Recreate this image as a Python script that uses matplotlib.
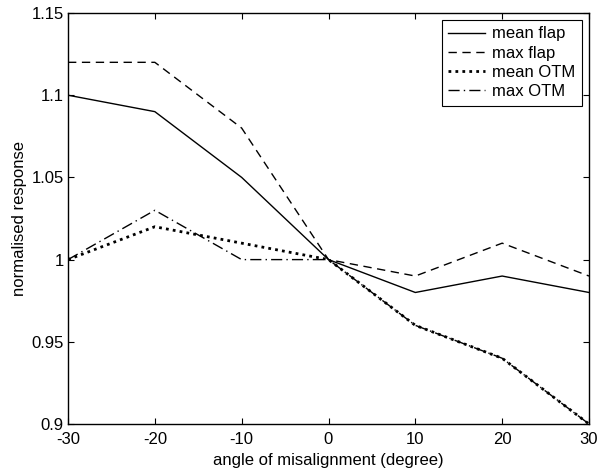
import numpy as np
import matplotlib
matplotlib.use('Agg')
import matplotlib.pyplot as plt

plt.rcParams['font.family'] = ['Liberation Sans', 'DejaVu Sans']

# data
angle = [-30, -20, -10, 0, 10, 20, 30]
mean_flap = [1.10, 1.09, 1.05, 1.00, 0.98, 0.99, 0.98]
max_flap = [1.12, 1.12, 1.08, 1.00, 0.99, 1.01, 0.99]
mean_otm = [1.00, 1.02, 1.01, 1.00, 0.96, 0.94, 0.90]
max_otm = [1.00, 1.03, 1.00, 1.00, 0.96, 0.94, 0.90]

xticks = [-30, -20, -10, 0, 10, 20, 30]
yticks = [0.9, 0.95, 1.0, 1.05, 1.1, 1.15]
ytick_labels = ['0.9', '0.95', '1', '1.05', '1.1', '1.15']

fig = plt.figure(figsize=(6, 4.76), dpi=100)
ax = fig.add_axes([68 / 600, 1 - 424 / 476, (589 - 68) / 600, (424 - 13) / 476])

ax.plot(angle, mean_flap, color='black', lw=1.0, ls='-', label='mean flap')
ax.plot(angle, max_flap, color='black', lw=1.0, ls=(0, (6, 4)), label='max flap')
ax.plot(angle, mean_otm, color='black', lw=2.0, ls=(0, (1, 1.5)), label='mean OTM')
ax.plot(angle, max_otm, color='black', lw=1.0, ls=(0, (8, 3, 1, 3)), label='max OTM')

ax.set_xlim(-30, 30)
ax.set_ylim(0.9, 1.15)
ax.set_xticks(xticks)
ax.set_xticklabels([str(t) for t in xticks])
ax.set_yticks(yticks)
ax.set_yticklabels(ytick_labels)
ax.tick_params(direction='in', top=True, right=True, labelsize=12, length=4, width=0.8)
ax.tick_params(axis='x', pad=6)
ax.tick_params(axis='y', pad=3)
for s in ax.spines.values():
    s.set_linewidth(1.0)

ax.set_xlabel('angle of misalignment (degree)', fontsize=12, labelpad=4)
ax.set_ylabel('normalised response', fontsize=12, labelpad=3)

leg = ax.legend(loc='upper right', fontsize=12, fancybox=False, framealpha=1,
                edgecolor='black', handlelength=2.2, borderaxespad=0.4,
                labelspacing=0.25, borderpad=0.4, handletextpad=0.45)
leg.get_frame().set_linewidth(0.8)

fig.savefig('out.png', dpi=100)
